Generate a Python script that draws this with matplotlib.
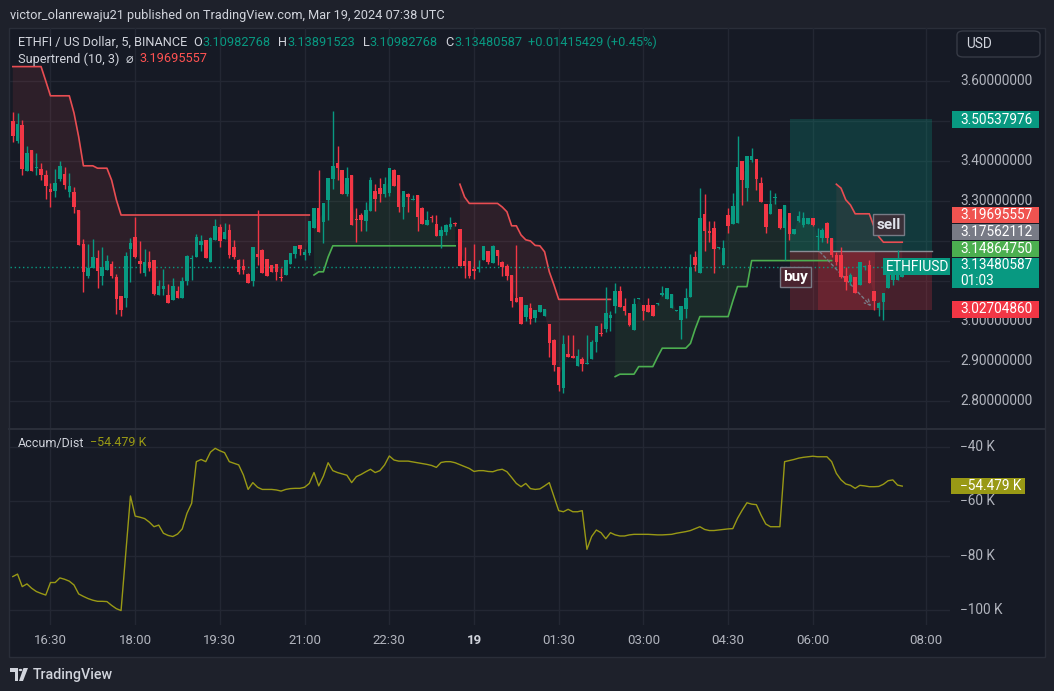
import numpy as np
import matplotlib
matplotlib.use("Agg")
import matplotlib.pyplot as plt
from matplotlib.patches import Rectangle, FancyBboxPatch, Polygon, Circle

W, H = 1054, 691

# ---- ETHFI/USD 5m candles, 15:50 .. 07:35 ----
opens = [3.500, 3.451, 3.490, 3.376, 3.428, 3.382, 3.380, 3.365, 3.330, 3.326,
         3.355, 3.368, 3.323, 3.322, 3.278, 3.192, 3.113, 3.132, 3.157, 3.113,
         3.128, 3.142, 3.110, 3.063, 3.058, 3.180, 3.209, 3.150, 3.121, 3.148,
         3.152, 3.065, 3.080, 3.065, 3.053, 3.076, 3.057, 3.100, 3.155, 3.160,
         3.190, 3.203, 3.148, 3.203, 3.236, 3.205, 3.228, 3.185, 3.153, 3.137,
         3.118, 3.101, 3.168, 3.178, 3.155, 3.140, 3.143, 3.110, 3.115, 3.143,
         3.168, 3.190, 3.165, 3.170, 3.233, 3.283, 3.248, 3.303, 3.356, 3.396,
         3.378, 3.318, 3.365, 3.253, 3.265, 3.251, 3.276, 3.325, 3.333, 3.318,
         3.320, 3.378, 3.365, 3.286, 3.317, 3.303, 3.315, 3.283, 3.240, 3.259,
         3.243, 3.213, 3.223, 3.235, 3.245, 3.230, 3.151, 3.151, 3.130, 3.130,
         3.153, 3.175, 3.146, 3.178, 3.147, 3.138, 3.115, 3.058, 3.060, 3.010,
         3.033, 3.008, 3.023, 3.013, 2.993, 2.953, 2.886, 2.833, 2.918, 2.912,
         2.888, 2.905, 2.892, 2.906, 2.948, 2.970, 2.980, 3.008, 3.038, 3.075,
         3.038, 3.019, 2.978, 3.055, 3.040, 3.040, 3.040, 3.042, 3.065, 3.055,
         3.033, 3.025, 3.003, 3.030, 3.061, 3.161, 3.121, 3.268, 3.223, 3.233,
         3.182, 3.140, 3.265, 3.243, 3.246, 3.400, 3.333, 3.403, 3.405, 3.346,
         3.293, 3.268, 3.308, 3.280, 3.232, 3.269, 3.217, 3.251, 3.240, 3.243,
         3.257, 3.210, 3.207, 3.244, 3.207, 3.165, 3.165, 3.113, 3.098, 3.111,
         3.090, 3.134, 3.140, 3.075, 3.032, 3.048, 3.082, 3.103, 3.103, 3.110]
highs = [3.523, 3.519, 3.503, 3.438, 3.428, 3.419, 3.394, 3.378, 3.344, 3.380,
         3.400, 3.386, 3.369, 3.336, 3.278, 3.205, 3.192, 3.204, 3.178, 3.184,
         3.165, 3.150, 3.117, 3.063, 3.173, 3.208, 3.259, 3.200, 3.180, 3.175,
         3.152, 3.103, 3.130, 3.092, 3.108, 3.088, 3.109, 3.165, 3.165, 3.217,
         3.215, 3.203, 3.210, 3.255, 3.243, 3.246, 3.243, 3.203, 3.155, 3.155,
         3.119, 3.185, 3.278, 3.180, 3.155, 3.140, 3.143, 3.132, 3.153, 3.170,
         3.188, 3.190, 3.179, 3.250, 3.283, 3.378, 3.295, 3.358, 3.525, 3.438,
         3.378, 3.385, 3.365, 3.282, 3.269, 3.297, 3.360, 3.343, 3.358, 3.360,
         3.383, 3.379, 3.365, 3.325, 3.319, 3.315, 3.315, 3.284, 3.275, 3.265,
         3.265, 3.238, 3.243, 3.260, 3.248, 3.230, 3.186, 3.151, 3.193, 3.153,
         3.188, 3.175, 3.190, 3.178, 3.151, 3.142, 3.115, 3.190, 3.060, 3.039,
         3.046, 3.028, 3.040, 3.030, 2.993, 2.954, 2.886, 2.965, 2.965, 2.965,
         2.929, 2.911, 2.965, 2.953, 2.988, 2.994, 3.084, 3.025, 3.094, 3.088,
         3.057, 3.019, 3.057, 3.058, 3.040, 3.057, 3.040, 3.044, 3.088, 3.083,
         3.068, 3.027, 3.038, 3.083, 3.168, 3.175, 3.332, 3.318, 3.251, 3.250,
         3.186, 3.203, 3.283, 3.319, 3.463, 3.400, 3.413, 3.433, 3.405, 3.361,
         3.293, 3.328, 3.321, 3.280, 3.290, 3.269, 3.229, 3.276, 3.273, 3.257,
         3.257, 3.232, 3.232, 3.248, 3.207, 3.173, 3.184, 3.136, 3.119, 3.111,
         3.148, 3.140, 3.153, 3.075, 3.048, 3.069, 3.115, 3.119, 3.178, 3.139]
lows = [3.448, 3.446, 3.365, 3.376, 3.376, 3.365, 3.353, 3.305, 3.286, 3.311,
        3.350, 3.330, 3.311, 3.271, 3.190, 3.073, 3.107, 3.132, 3.082, 3.090,
        3.128, 3.108, 3.018, 3.013, 3.034, 3.098, 3.157, 3.119, 3.113, 3.125,
        3.065, 3.065, 3.065, 3.046, 3.053, 3.057, 3.057, 3.090, 3.103, 3.160,
        3.176, 3.158, 3.148, 3.203, 3.186, 3.205, 3.158, 3.156, 3.118, 3.118,
        3.096, 3.088, 3.140, 3.121, 3.113, 3.122, 3.103, 3.101, 3.115, 3.143,
        3.157, 3.165, 3.153, 3.165, 3.233, 3.223, 3.196, 3.253, 3.330, 3.353,
        3.318, 3.313, 3.241, 3.198, 3.225, 3.225, 3.276, 3.275, 3.298, 3.310,
        3.313, 3.338, 3.273, 3.256, 3.273, 3.302, 3.226, 3.243, 3.240, 3.247,
        3.213, 3.183, 3.215, 3.230, 3.238, 3.138, 3.107, 3.108, 3.106, 3.122,
        3.153, 3.143, 3.146, 3.140, 3.113, 3.103, 3.034, 3.048, 2.993, 3.001,
        2.993, 2.998, 3.023, 3.013, 2.911, 2.875, 2.826, 2.819, 2.910, 2.908,
        2.888, 2.875, 2.892, 2.906, 2.922, 2.963, 2.973, 2.975, 3.021, 3.036,
        3.015, 2.988, 2.978, 3.054, 3.003, 3.022, 3.013, 3.041, 3.063, 3.055,
        3.033, 3.024, 2.955, 3.008, 3.061, 3.126, 3.121, 3.176, 3.198, 3.121,
        3.181, 3.140, 3.219, 3.243, 3.246, 3.290, 3.300, 3.398, 3.328, 3.298,
        3.219, 3.268, 3.293, 3.229, 3.153, 3.203, 3.217, 3.248, 3.236, 3.243,
        3.238, 3.178, 3.198, 3.194, 3.161, 3.140, 3.107, 3.078, 3.090, 3.069,
        3.090, 3.128, 3.096, 3.028, 3.013, 3.003, 3.082, 3.090, 3.103, 3.110]
closes = [3.463, 3.493, 3.379, 3.419, 3.376, 3.383, 3.365, 3.338, 3.323, 3.344,
          3.388, 3.340, 3.338, 3.286, 3.190, 3.123, 3.132, 3.159, 3.126, 3.136,
          3.150, 3.113, 3.056, 3.028, 3.163, 3.196, 3.160, 3.143, 3.148, 3.132,
          3.068, 3.088, 3.088, 3.046, 3.088, 3.057, 3.100, 3.163, 3.158, 3.210,
          3.201, 3.158, 3.208, 3.238, 3.201, 3.223, 3.165, 3.160, 3.123, 3.128,
          3.096, 3.185, 3.160, 3.121, 3.113, 3.122, 3.123, 3.108, 3.153, 3.170,
          3.188, 3.180, 3.173, 3.250, 3.283, 3.223, 3.295, 3.358, 3.388, 3.383,
          3.318, 3.357, 3.241, 3.252, 3.253, 3.278, 3.353, 3.305, 3.318, 3.343,
          3.383, 3.338, 3.286, 3.325, 3.311, 3.305, 3.261, 3.243, 3.253, 3.257,
          3.213, 3.228, 3.240, 3.243, 3.243, 3.138, 3.138, 3.113, 3.126, 3.136,
          3.188, 3.147, 3.188, 3.163, 3.134, 3.113, 3.051, 3.048, 2.993, 3.039,
          3.006, 3.028, 3.040, 3.030, 2.946, 2.890, 2.840, 2.943, 2.910, 2.908,
          2.912, 2.892, 2.893, 2.947, 2.988, 2.967, 3.019, 3.015, 3.075, 3.036,
          3.026, 2.990, 3.043, 3.057, 3.025, 3.022, 3.013, 3.043, 3.071, 3.083,
          3.068, 3.026, 3.038, 3.058, 3.136, 3.140, 3.258, 3.225, 3.221, 3.181,
          3.185, 3.183, 3.238, 3.288, 3.386, 3.353, 3.413, 3.413, 3.355, 3.298,
          3.236, 3.293, 3.310, 3.232, 3.290, 3.217, 3.229, 3.263, 3.257, 3.257,
          3.240, 3.212, 3.228, 3.207, 3.165, 3.147, 3.109, 3.098, 3.115, 3.071,
          3.148, 3.137, 3.096, 3.051, 3.044, 3.069, 3.115, 3.115, 3.136, 3.135]

nan = float("nan")
# Supertrend (10, 3): red (down) and green (up) legs
st_down = ([3.636] * 7 + [3.600] + [3.563] * 5 + [3.520, 3.460] + [3.388] * 3
           + [3.382] * 3 + [3.352, 3.303] + [3.265] * 41 + [nan] * 31
           + [3.342, 3.310] + [3.294] * 7 + [3.285, 3.273, 3.238, 3.238, 3.215,
                                              3.203, 3.200, 3.189, 3.188, 3.173,
                                              3.123, 3.090] + [3.054] * 12
           + [nan] * 47 + [3.342, 3.332, 3.303, 3.290] + [3.268] * 4
           + [3.236, 3.211] + [3.197] * 5)
st_up = ([nan] * 64 + [3.115, 3.123, 3.123, 3.160] + [3.188] * 27 + [nan] * 33
         + [2.861] + [2.867] * 4 + [2.886] * 4 + [2.910] + [2.932] * 6
         + [2.944, 2.980] + [3.011] * 7 + [3.050] + [3.086] * 3 + [3.151] * 18
         + [nan] * 15)

# Accumulation/Distribution, thousands
accum_dist = [-87.7, -86.8, -91.4, -90.4, -92.0, -93.2, -93.9, -94.5, -89.9, -89.9,
              -88.2, -88.7, -89.4, -90.8, -94.1, -95.0, -95.8, -96.4, -96.8, -96.8,
              -96.9, -98.3, -99.5, -100.2, -79.2, -58.1, -65.5, -65.9, -66.4, -67.7,
              -69.4, -68.8, -71.8, -72.6, -73.0, -72.1, -70.2, -64.5, -60.8, -45.5,
              -44.7, -45.5, -42.0, -40.6, -41.5, -42.2, -45.5, -46.1, -46.7, -50.4,
              -55.7, -53.2, -54.9, -55.7, -55.7, -55.7, -55.9, -56.3, -55.7, -55.4,
              -55.3, -55.3, -54.9, -53.5, -49.5, -54.4, -50.8, -45.9, -48.8, -49.5,
              -50.0, -50.5, -53.2, -51.0, -50.2, -49.2, -48.3, -49.5, -48.8, -46.7,
              -43.4, -44.9, -45.3, -45.3, -45.3, -45.6, -45.9, -46.2, -46.5, -46.9,
              -47.6, -45.8, -45.5, -45.5, -45.9, -46.6, -47.3, -48.0, -49.1, -48.8,
              -48.8, -49.1, -49.2, -48.6, -48.3, -49.2, -51.3, -53.5, -54.7, -53.5,
              -55.4, -55.7, -55.5, -54.4, -53.2, -58.4, -63.5, -63.9, -63.0, -63.9,
              -63.9, -63.5, -77.7, -73.0, -70.6, -71.6, -73.8, -71.6, -72.4, -72.8,
              -72.8, -72.4, -72.2, -72.2, -72.2, -72.2, -72.3, -72.4, -72.4, -72.3,
              -72.2, -71.8, -71.5, -71.2, -70.8, -70.1, -69.4, -70.4, -70.8, -70.8,
              -70.6, -70.4, -70.2, -70.1, -66.3, -63.3, -60.6, -61.1, -61.3, -65.1,
              -68.4, -69.4, -69.4, -69.4, -45.5, -45.1, -44.7, -44.2, -43.9, -43.7,
              -43.5, -43.7, -43.7, -43.7, -45.5, -49.8, -52.2, -53.7, -54.2, -55.3,
              -54.2, -54.4, -54.7, -54.7, -54.6, -53.8, -52.5, -52.2, -54.1, -54.479]

# long position drawing
pos_start, pos_end = 165.2, 195.3
pos_hit_start, pos_hit_end = 171.1, 183.2
entry, target, stop = 3.17562112, 3.50537976, 3.02704860
last_price = 3.13480587

time_ticks = [8, 26, 44, 62, 80, 98, 116, 134, 152, 170, 194]
time_labels = ["16:30", "18:00", "19:30", "21:00", "22:30", "19",
               "01:30", "03:00", "04:30", "06:00", "08:00"]
grid_prices = [2.8, 2.9, 3.0, 3.1, 3.2, 3.3, 3.4, 3.5, 3.6]
shown_prices = [2.8, 2.9, 3.0, 3.3, 3.4, 3.6]   # the rest sit under coloured tags
ad_ticks = [-100, -80, -60, -40]

# ---- style ----
plt.rcParams['font.family'] = ['Roboto', 'DejaVu Sans']
BG = '#161a25'
OUTER = '#1e212b'
GRID = '#232733'
TXT = '#b2b5be'
UP = '#089981'
DN = '#f23645'
AD_COL = '#999915'
ST_RED = '#e84d52'
ST_GREEN = '#4caf50'

fig = plt.figure(figsize=(W / 100, H / 100), dpi=100, facecolor=OUTER)


def fx(x):
    return x / W


def fy(y):
    return 1 - y / H


fig.patches.append(Rectangle((fx(9), fy(657)), fx(1045) - fx(9), fy(28) - fy(657),
                             transform=fig.transFigure, facecolor=BG,
                             edgecolor='#2a2e39', lw=1, zorder=-5))

ax = fig.add_axes([fx(10), fy(428), fx(950) - fx(10), fy(28) - fy(428)])
ax2 = fig.add_axes([fx(10), fy(625), fx(950) - fx(10), fy(430) - fy(625)])

idx = np.arange(len(closes))
o, hi, lo, c = (np.array(a) for a in (opens, highs, lows, closes))
sd = np.array(st_down)
su = np.array(st_up)
mid = (o + c) / 2

for a in (ax, ax2):
    a.set_facecolor('none')
    for s in a.spines.values():
        s.set_visible(False)
    a.set_xlim(-0.6, 199.15)
    a.set_xticks(time_ticks)
    a.tick_params(axis='x', length=0, labelbottom=False)
    a.grid(True, color=GRID, lw=1)
    a.set_axisbelow(True)
    a.tick_params(axis='y', length=0, labelleft=False)

# price pane
ax.set_ylim(2.7325, 3.7325)
ax.set_yticks(grid_prices)

ax.fill_between(idx, sd, mid, where=~np.isnan(sd), color='#ff5252', alpha=0.1, lw=0, zorder=1)
ax.fill_between(idx, su, mid, where=~np.isnan(su), color='#4caf50', alpha=0.1, lw=0, zorder=1)
ax.plot(idx, sd, color=ST_RED, lw=1.2, zorder=2)
ax.plot(idx, su, color=ST_GREEN, lw=1.2, zorder=2)

# position tool
ax.add_patch(Rectangle((pos_start, entry), pos_end - pos_start, target - entry,
                       facecolor=UP, alpha=0.25, lw=0, zorder=1.5))
ax.add_patch(Rectangle((pos_start, stop), pos_end - pos_start, entry - stop,
                       facecolor=DN, alpha=0.22, lw=0, zorder=1.5))
ax.add_patch(Rectangle((pos_hit_start, stop), pos_hit_end - pos_hit_start, entry - stop,
                       facecolor=DN, alpha=0.2, lw=0, zorder=1.6))
ax.plot([pos_start, pos_end], [entry, entry], color='#8a8d96', lw=1, zorder=2)
ax.annotate("", xy=(182.8, 3.032), xytext=(171.1, 3.178),
            arrowprops=dict(arrowstyle='->', color='#787b86', lw=1, ls=(0, (2, 2))),
            zorder=2.5)

ax.axhline(last_price, color=UP, lw=1, ls=(0, (1, 2)), zorder=2)

cols = np.where(c >= o, UP, DN)
ax.vlines(idx, lo, hi, colors=cols, lw=1, zorder=3)
ax.bar(idx, np.maximum(np.abs(c - o), 0.003), bottom=np.minimum(o, c), width=0.74,
       color=cols, lw=0, zorder=4)

ax.text(166.3, 3.110, "buy", color='white', fontsize=11, fontweight='bold',
        ha='center', va='center', zorder=6,
        bbox=dict(boxstyle='square,pad=0.22', fc='#4a2430', ec='#787b86', lw=1))
ax.text(186.1, 3.241, "sell", color='#e0e3eb', fontsize=11, fontweight='bold',
        ha='center', va='center', zorder=6,
        bbox=dict(boxstyle='square,pad=0.22', fc='#3a3038', ec='#787b86', lw=1))

# A/D pane
ax2.set_ylim(-105.5, -33.87)
ax2.set_yticks(ad_ticks)
ax2.plot(idx, accum_dist, color=AD_COL, lw=1, zorder=3)

# pane separator
fig.add_artist(plt.Line2D([fx(9), fx(1045)], [fy(429), fy(429)], color='#2a2e39', lw=1.5))

# axis labels (price scale, A/D scale, time scale)
for p in shown_prices:
    yp = ax.transData.transform((0, p))[1]
    fig.text(fx(960), yp / H, f"{p:.8f}", color=TXT, fontsize=9.8, va='center')
for v in ad_ticks:
    yp = ax2.transData.transform((0, v))[1]
    fig.text(fx(960), yp / H, f"\u2212{abs(v)} K", color=TXT, fontsize=9.8, va='center')
for t, lab in zip(time_ticks, time_labels):
    xp = ax2.transData.transform((t, 0))[0]
    bold = lab == "19"
    fig.text(xp / W, fy(641), lab, ha='center', va='center', fontsize=9.5,
             color='#d1d4dc' if bold else TXT, fontweight='bold' if bold else 'normal')

renderer = fig.canvas.get_renderer()


def text_run(x, y, parts, size):
    for s, col, gap in parts:
        t = fig.text(fx(x), fy(y), s, color=col, fontsize=size, va='center', ha='left')
        x += t.get_window_extent(renderer).width + gap


fig.text(fx(10), fy(15), "victor_olanrewaju21 published on TradingView.com, Mar 19, 2024 07:38 UTC",
         color='#d1d4dc', fontsize=9.2, va='center')
text_run(18, 42, [("ETHFI / US Dollar, 5, BINANCE", '#d1d4dc', 6),
                  ("O", '#d1d4dc', 0), ("3.10982768", UP, 8),
                  ("H", '#d1d4dc', 0), ("3.13891523", UP, 8),
                  ("L", '#d1d4dc', 0), ("3.10982768", UP, 8),
                  ("C", '#d1d4dc', 0), ("3.13480587", UP, 6),
                  ("+0.01415429 (+0.45%)", UP, 0)], 9.2)
text_run(18, 59, [("Supertrend (10, 3)", '#d1d4dc', 6), ("\u2300", '#d1d4dc', 6),
                  ("3.19695557", '#ff5252', 0)], 9.2)
text_run(18, 443, [("Accum/Dist", '#d1d4dc', 6), ("\u221254.479 K", AD_COL, 0)], 9)


# right scale tags
def scale_label(y0, y1, txt, fc, x0=952, x1=1039):
    fig.patches.append(Rectangle((fx(x0), fy(y1)), fx(x1) - fx(x0), fy(y0) - fy(y1),
                                 transform=fig.transFigure, facecolor=fc, lw=0, zorder=5))
    fig.text(fx(960), fy((y0 + y1) / 2), txt, color='white', fontsize=9.8,
             va='center', ha='left', zorder=6, linespacing=1.15)


scale_label(111, 128, "3.50537976", UP)
scale_label(207, 223.5, "3.19695557", '#f05350')
scale_label(224, 240, "3.17562112", '#787b86')
scale_label(240.5, 257, "3.14864750", '#4caf50')
scale_label(258, 288, "3.13480587\n01:03", UP)
scale_label(301, 318, "3.02704860", DN)
scale_label(478, 494, "\u221254.479 K", AD_COL, x0=951, x1=1025)

# ETHFIUSD tag
fig.patches.append(Rectangle((fx(883), fy(275)), fx(950) - fx(883), fy(258.5) - fy(275),
                             transform=fig.transFigure, facecolor=UP, lw=0, zorder=5))
fig.text(fx(886), fy(266.5), "ETHFIUSD", color='white', fontsize=10, va='center', zorder=6)

# currency box
fig.patches.append(FancyBboxPatch((fx(957), fy(57)), fx(1040) - fx(957), fy(31) - fy(57),
                                  boxstyle='round,pad=0,rounding_size=0.006',
                                  transform=fig.transFigure, facecolor=BG,
                                  edgecolor='#363a45', lw=1, zorder=5))
fig.text(fx(966), fy(44), "USD", color='#d1d4dc', fontsize=9.8, va='center', zorder=6)

# footer logo
fig.patches.append(Polygon([(fx(10), fy(668)), (fx(18), fy(668)), (fx(18), fy(681)),
                            (fx(14.5), fy(681)), (fx(14.5), fy(671.5)), (fx(10), fy(671.5))],
                           closed=True, transform=fig.transFigure, facecolor='#d1d4dc', lw=0))
fig.patches.append(Circle((fx(20.5), fy(670)), 1.8 / W, transform=fig.transFigure,
                          facecolor='#d1d4dc', lw=0))
fig.patches.append(Polygon([(fx(23.5), fy(668)), (fx(28), fy(668)), (fx(23), fy(681)),
                            (fx(19), fy(681))],
                           closed=True, transform=fig.transFigure, facecolor='#d1d4dc', lw=0))
fig.text(fx(33), fy(674.5), "TradingView", color='#d1d4dc', fontsize=10.3,
         va='center', fontweight='medium')

fig.savefig("out.png", dpi=100, facecolor=OUTER)
